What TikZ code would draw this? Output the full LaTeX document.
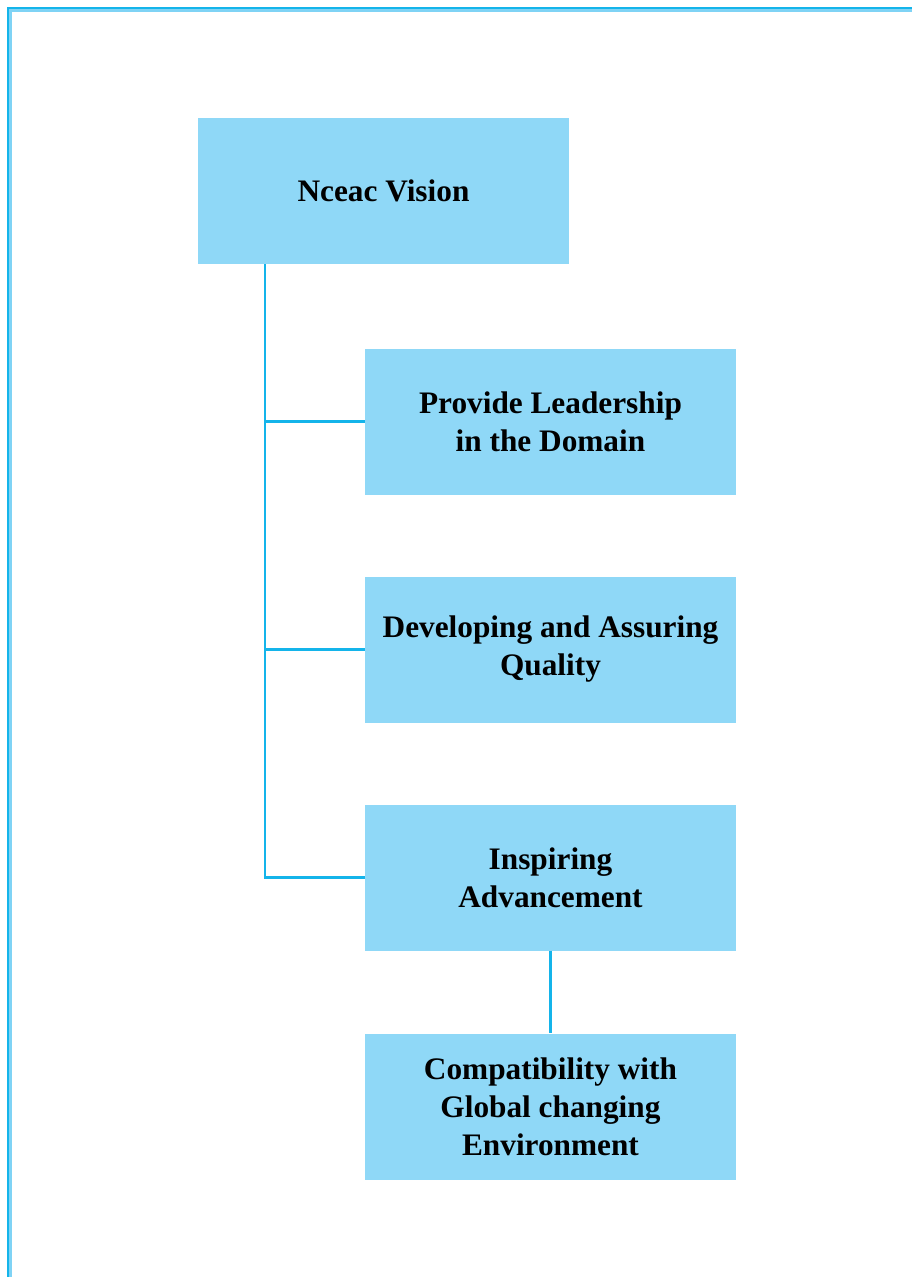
\documentclass[tikz,border=0pt]{standalone}
\usepackage{fontspec}
\setmainfont{Liberation Serif}
\definecolor{boxfill}{HTML}{8FD8F7}
\definecolor{lineblue}{HTML}{14B4EA}
\definecolor{lightblue}{HTML}{7FD3F5}
\begin{document}
\begin{tikzpicture}[x=1pt,y=-1pt,
  box/.style={fill=boxfill,draw=none,minimum width=371pt,minimum height=146pt,inner sep=0pt,align=center,
    font=\bfseries\fontsize{31.3}{38}\selectfont},
  conn/.style={draw=lineblue,line width=2.8pt}]
\useasboundingbox (0,0) rectangle (912,1277);
% page border
\draw[lineblue,line width=2pt] (8.2,1277) -- (8.2,8.2) -- (912,8.2);
\draw[lightblue,line width=3pt] (10.9,1277) -- (10.9,10.9) -- (912,10.9);
% boxes
\node[box] (top) at (383.5,191) {Nceac Vision};
\node[box] (b2) at (550.5,421.5) {Provide Leadership\\in the Domain};
\node[box] (b3) at (550.5,649.5) {Developing and Assuring\\Quality};
\node[box] (b4) at (550.5,877.5) {Inspiring\\Advancement};
\node[box] (b5) at (550.5,1106.5) {Compatibility with\\Global changing\\Environment};
% connectors
\coordinate (trunk) at (265,264);
\draw[conn] (trunk) |- (b4.west);
\draw[conn] (trunk |- b2.west) -- (b2.west);
\draw[conn] (trunk |- b3.west) -- (b3.west);
\draw[conn] (b4.south) -- (b5.north);
\end{tikzpicture}
\end{document}
